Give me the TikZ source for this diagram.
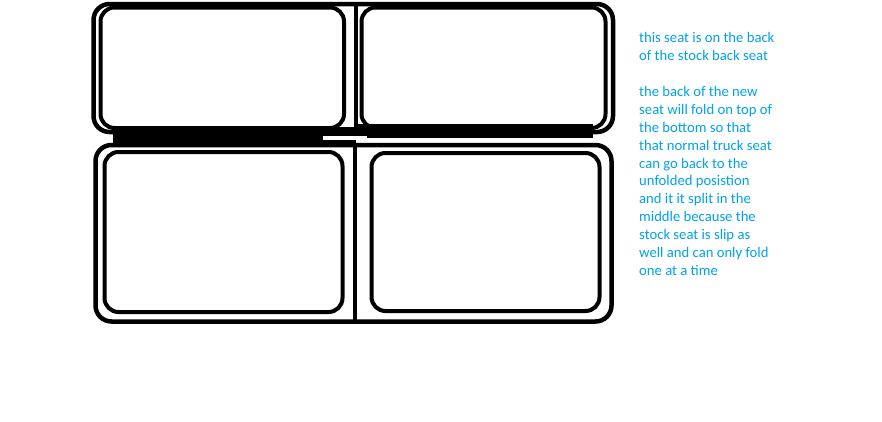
\documentclass[tikz,border=0pt]{standalone}
\usepackage{fontspec}
\setmainfont{Carlito}
\definecolor{noteblue}{RGB}{0,162,232}
\begin{document}
\begin{tikzpicture}[x=1pt,y=-1pt,
frame/.style={draw=black, line width=4.5pt, rounded corners=16pt},
pad/.style={draw=black, line width=4pt, rounded corners=14pt},
bar/.style={fill=black, draw=none}]
\useasboundingbox (0,0) rectangle (882,421);
% bars between the two rows
\fill[bar] (113,127) rectangle (356,145);
\fill[bar] (356,124) rectangle (593,138);
% frames and middle split
\draw[frame] (93.5,4) rectangle (613,132);
\draw[frame] (95.5,145) rectangle (611.5,321.5);
\draw[line width=3.5pt] (356,5) -- (356,132);
\draw[line width=3.5pt] (355,145) -- (355,321);
% seat cushions
\foreach \xa/\ya/\xb/\yb in {100.5/7.5/344/128, 361.5/7.5/605.5/128, 104.5/152/342.5/312, 371.5/153/599.5/311}
    \draw[pad] (\xa,\ya) rectangle (\xb,\yb);
\fill[white] (323,136) rectangle (367,140);
\node[anchor=north west, inner sep=0pt, align=left, text=noteblue,
      font=\fontsize{14.67}{17.95}\selectfont] (note) at (639,32)
  {this seat is on the back\\of the stock back seat\\[17.95pt]the back of the new\\seat will fold on top of\\the bottom so that\\that normal truck seat\\can go back to the\\unfolded posistion\\and it it split in the\\middle because the\\stock seat is slip as\\well and can only fold\\one at a time};
\end{tikzpicture}
\end{document}
